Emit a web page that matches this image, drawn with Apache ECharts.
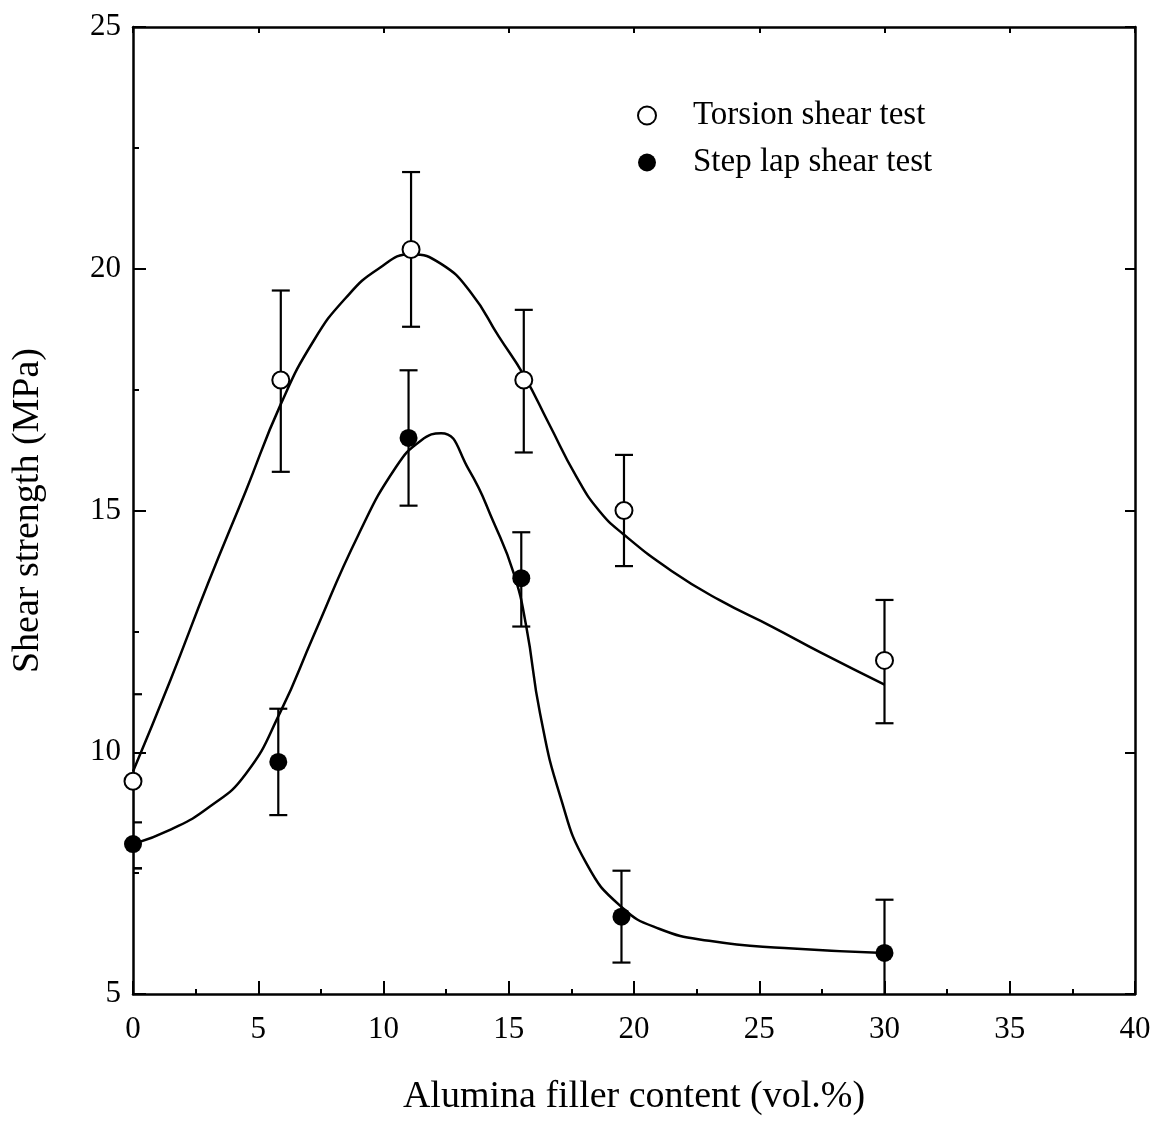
<!DOCTYPE html>
<html>
<head>
<meta charset="utf-8">
<title>Shear strength vs alumina filler content</title>
<script src="https://cdn.jsdelivr.net/npm/echarts/dist/echarts.min.js"></script>
<style>
	html, body { margin: 0; padding: 0; background: #fff; }
	#chart { width: 1158px; height: 1121px; }
</style>
</head>
<body>
<div id="chart"></div>
<script>
var torsionX = [0, 5.9, 11.1, 15.6, 19.6, 30];
var torsionY = [9.4, 17.7, 20.4, 17.7, 15.0, 11.9];
var torsionLow = [7.6, 15.8, 18.8, 16.2, 13.85, 10.6];
var torsionHigh = [11.2, 19.55, 22.0, 19.15, 16.15, 13.15];

var stepX = [0, 5.8, 11.0, 15.5, 19.5, 30];
var stepY = [8.1, 9.8, 16.5, 13.6, 6.6, 5.85];
var stepLow = [7.6, 8.7, 15.1, 12.6, 5.65, 4.75];
var stepHigh = [8.55, 10.9, 17.9, 14.55, 7.55, 6.95];

// fitted curves
var torsionCurveX = [0, 1.5, 3, 4.5, 5.9, 7.2, 8.5, 9.8, 11.1, 12.3, 13.5, 14.6, 15.6, 16.6, 17.7, 18.6, 19.6, 21.5, 23.4, 25.5, 27.5, 30];
var torsionCurveY = [9.6, 11.5, 13.5, 15.4, 17.2, 18.5, 19.4, 20.0, 20.3, 20.1, 19.5, 18.6, 17.8, 16.8, 15.7, 15.0, 14.5, 13.75, 13.15, 12.6, 12.05, 11.4];

var stepCurveX = [0, 1.5, 3, 4.5, 5.9, 7.2, 9, 10.5, 11.5, 12.3, 13.4, 14.4, 15.2, 15.7, 16.25, 17.05, 18.1, 19.5, 21, 23, 26, 30];
var stepCurveY = [8.1, 8.4, 8.85, 9.55, 10.85, 12.4, 14.5, 15.9, 16.45, 16.6, 15.85, 14.75, 13.7, 12.6, 10.8, 9.1, 7.7, 6.8, 6.35, 6.1, 5.95, 5.85];

var xTicks = [0, 40, 5];
var yTicks = [5, 25, 5];

var serif = '"Liberation Serif", "DejaVu Serif", serif';

function zip(a, b) {
	var out = [];
	for (var i = 0; i < a.length; i++) {
		out.push([a[i], b[i]]);
	}
	return out;
}

function zip3(a, b, c) {
	var out = [];
	for (var i = 0; i < a.length; i++) {
		out.push([a[i], b[i], c[i]]);
	}
	return out;
}

function errorBar(params, api) {
	var x = api.value(0);
	var lo = api.coord([x, api.value(1)]);
	var hi = api.coord([x, api.value(2)]);
	var half = 9;
	var style = { stroke: '#000', lineWidth: 2.2 };
	return {
		type : 'group',
		children : [{
			type : 'line',
			shape : { x1 : lo[0], y1 : lo[1], x2 : hi[0], y2 : hi[1] },
			style : style
		}, {
			type : 'line',
			shape : { x1 : hi[0] - half, y1 : hi[1], x2 : hi[0] + half, y2 : hi[1] },
			style : style
		}, {
			type : 'line',
			shape : { x1 : lo[0] - half, y1 : lo[1], x2 : lo[0] + half, y2 : lo[1] },
			style : style
		}]
	};
}

var charts = echarts.init(document.getElementById('chart'));

var axisLine = { show : true, onZero : false, lineStyle : { color : '#000', width : 2.5 } };
var tickStyle = { color : '#000', width : 2 };

option = {
	backgroundColor : '#fff',
	animation : false,
	grid : {
		left : 133,
		right : 23,
		top : 27,
		bottom : 126
	},
	legend : {
		orient : 'vertical',
		left : 632,
		top : 94,
		itemWidth : 18,
		itemHeight : 18,
		itemGap : 14,
		textStyle : {
			fontFamily : serif,
			fontSize : 33,
			color : '#000',
			padding : [0, 0, 0, 32]
		},
		data : ['Torsion shear test', 'Step lap shear test']
	},
	xAxis : [{
		type : 'value',
		min : xTicks[0],
		max : xTicks[1],
		interval : xTicks[2],
		name : 'Alumina filler content (vol.%)',
		nameLocation : 'middle',
		nameGap : 84,
		nameTextStyle : { fontFamily : serif, fontSize : 38, color : '#000' },
		axisLine : axisLine,
		axisTick : { inside : true, length : 13, lineStyle : tickStyle },
		minorTick : { show : true, splitNumber : 2, length : 5, lineStyle : tickStyle },
		axisLabel : { margin : 20, fontFamily : serif, fontSize : 31, color : '#000' },
		splitLine : { show : false }
	}, {
		type : 'value',
		position : 'top',
		min : xTicks[0],
		max : xTicks[1],
		interval : xTicks[2],
		axisLine : axisLine,
		axisTick : { inside : true, length : 6, lineStyle : tickStyle },
		axisLabel : { show : false },
		splitLine : { show : false }
	}],
	yAxis : [{
		type : 'value',
		min : yTicks[0],
		max : yTicks[1],
		interval : yTicks[2],
		name : 'Shear strength (MPa)',
		nameLocation : 'middle',
		nameGap : 86,
		nameTextStyle : { fontFamily : serif, fontSize : 38, color : '#000' },
		axisLine : axisLine,
		axisTick : { inside : true, length : 13, lineStyle : tickStyle },
		minorTick : { show : true, splitNumber : 2, length : 6, lineStyle : tickStyle },
		axisLabel : { margin : 12, fontFamily : serif, fontSize : 31, color : '#000' },
		splitLine : { show : false }
	}, {
		type : 'value',
		position : 'right',
		min : yTicks[0],
		max : yTicks[1],
		interval : yTicks[2],
		axisLine : axisLine,
		axisTick : { inside : true, length : 10, lineStyle : tickStyle },
		axisLabel : { show : false },
		splitLine : { show : false }
	}],
	series : [{
		name : 'torsion fit',
		type : 'line',
		data : zip(torsionCurveX, torsionCurveY),
		smooth : 0.5,
		showSymbol : false,
		lineStyle : { color : '#000', width : 2.5 },
		z : 2
	}, {
		name : 'step fit',
		type : 'line',
		data : zip(stepCurveX, stepCurveY),
		smooth : 0.5,
		showSymbol : false,
		lineStyle : { color : '#000', width : 2.5 },
		z : 2
	}, {
		name : 'torsion error',
		type : 'custom',
		renderItem : errorBar,
		data : zip3(torsionX, torsionLow, torsionHigh),
		clip : true,
		z : 3
	}, {
		name : 'step error',
		type : 'custom',
		renderItem : errorBar,
		data : zip3(stepX, stepLow, stepHigh),
		clip : true,
		z : 3
	}, {
		name : 'Torsion shear test',
		type : 'scatter',
		data : zip(torsionX, torsionY),
		symbol : 'circle',
		symbolSize : 17,
		itemStyle : { color : '#fff', borderColor : '#000', borderWidth : 2, opacity : 1 },
		z : 4
	}, {
		name : 'Step lap shear test',
		type : 'scatter',
		data : zip(stepX, stepY),
		symbol : 'circle',
		symbolSize : 18,
		itemStyle : { color : '#000', opacity : 1 },
		z : 4
	}]
};

charts.setOption(option);
</script>
</body>
</html>
